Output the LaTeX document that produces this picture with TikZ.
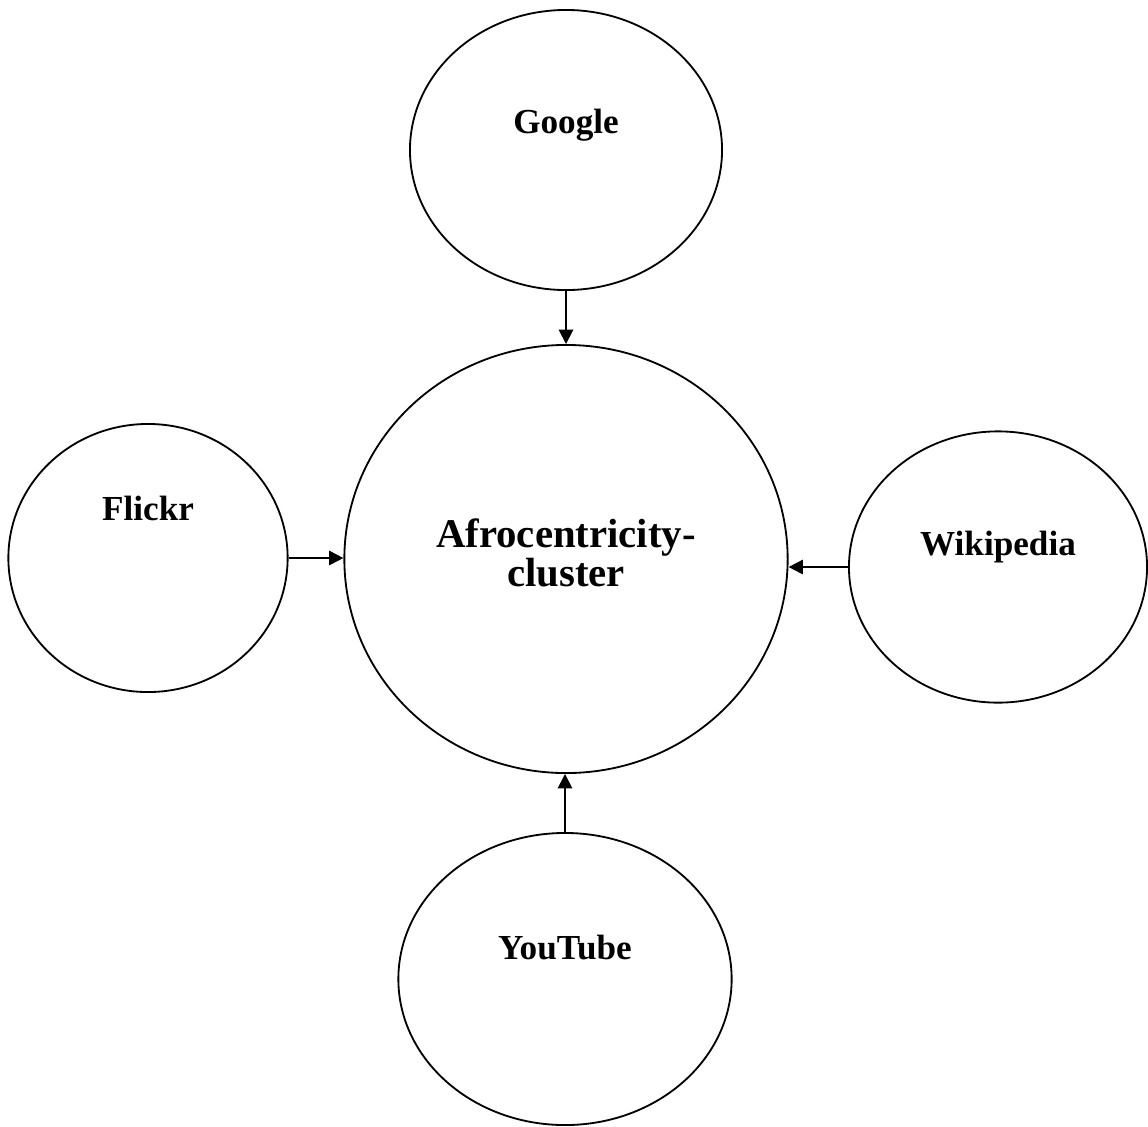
\documentclass[tikz,border=0pt]{standalone}
\usepackage{fontspec}
\setmainfont{Liberation Serif}
\usetikzlibrary{arrows.meta,shapes.geometric}

\begin{document}
\begin{tikzpicture}[
  x=0.025cm, y=-0.025cm,
  site/.style={draw, ellipse, line width=1.3pt, inner sep=0pt},
  sitetext/.style={font=\bfseries\fontsize{25}{28}\selectfont},
  hubtext/.style={font=\bfseries\fontsize{29}{28}\selectfont, align=center},
  arrow/.style={-{Triangle[length=0.36cm, width=0.36cm]}, line width=1.3pt}
]
\useasboundingbox (0,0) rectangle (1148,1126);
% satellites and hub
\node[site, minimum width=11.08cm, minimum height=10.7cm,
  label={[hubtext, yshift=0.15cm]center:Afrocentricity-\\cluster}] (c) at (566,559) {};
\node[site, minimum width=7.8cm, minimum height=7cm,
  label={[sitetext, yshift=0.62cm]center:Google}] (g) at (566,150) {};
\node[site, minimum width=6.98cm, minimum height=6.7cm,
  label={[sitetext, yshift=1.25cm]center:Flickr}] (f) at (148,558) {};
\node[site, minimum width=7.45cm, minimum height=6.78cm,
  label={[sitetext, yshift=0.5cm]center:Wikipedia}] (w) at (998,567) {};
\node[site, minimum width=8.33cm, minimum height=7.3cm,
  label={[sitetext, yshift=0.78cm]center:YouTube}] (y) at (565,979) {};
\draw[arrow] (g) -- (c);
\draw[arrow] (f.east) -- (f.east -| c.west);
\draw[arrow] (w.west) -- (w.west -| c.east);
\draw[arrow] (y.north) -- (y.north |- c.south);
\end{tikzpicture}
\end{document}
